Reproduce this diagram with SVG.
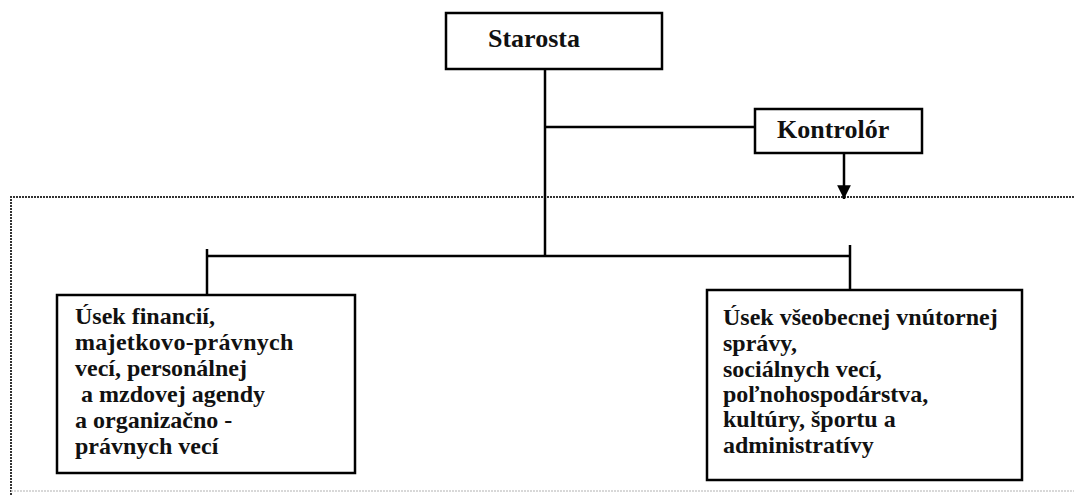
<svg xmlns="http://www.w3.org/2000/svg" width="1074" height="495" viewBox="0 0 1074 495">
<style>
.box{fill:#fff;stroke:#000;stroke-width:2.5}
.ln{fill:none;stroke:#000;stroke-width:2.5}
.frame{fill:none;stroke:#333;stroke-width:2;stroke-dasharray:2 1}
.t{font-family:"Liberation Serif","Times New Roman",serif;font-weight:bold;fill:#111}
.h{font-size:26px}
.b{font-size:24px}
</style>
<defs>
<marker id="arr" viewBox="0 0 10 10" refX="10" refY="5" markerWidth="5.5" markerHeight="5.5" orient="auto" markerUnits="strokeWidth">
<path d="M0,0 L10,5 L0,10 z" fill="#000"/>
</marker>
</defs>
<rect width="1074" height="495" fill="#fff"/>
<g id="frame">
<path class="frame" d="M11,495 L11,197 L1074,197"/>
<path d="M11,491 L1074,491" fill="none" stroke="#ccc" stroke-width="1.5" stroke-dasharray="2 1"/>
</g>
<g id="connectors">
<path class="ln" d="M545,69 L545,256"/>
<path class="ln" d="M545,127 L755,127"/>
<path class="ln" d="M844,153 L844,199" marker-end="url(#arr)"/>
<path class="ln" d="M207,256 L850,256"/>
<path class="ln" d="M207,249 L207,295"/>
<path class="ln" d="M850,245 L850,290"/>
</g>
<g id="starosta">
<rect class="box" x="446" y="13" width="216" height="56"/>
<text class="t h" x="488" y="47">Starosta</text>
</g>
<g id="kontrolor">
<rect class="box" x="755" y="109" width="167" height="44"/>
<text class="t h" x="777" y="138">Kontrolór</text>
</g>
<g id="usek-financii">
<rect class="box" x="57" y="295" width="298" height="178"/>
<text class="t b" x="75" y="324">Úsek financií,</text>
<text class="t b" x="75" y="350" letter-spacing="0.3">majetkovo-právnych</text>
<text class="t b" x="75" y="376">vecí, personálnej</text>
<text class="t b" x="75" y="402" xml:space="preserve"> a mzdovej agendy</text>
<text class="t b" x="75" y="428">a organizačno -</text>
<text class="t b" x="75" y="454">právnych vecí</text>
</g>
<g id="usek-vseobecnej">
<rect class="box" x="707" y="290" width="315" height="190"/>
<text class="t b" x="723" y="325">Úsek všeobecnej vnútornej</text>
<text class="t b" x="723" y="351">správy,</text>
<text class="t b" x="723" y="377">sociálnych vecí,</text>
<text class="t b" x="723" y="402">poľnohospodárstva,</text>
<text class="t b" x="723" y="427">kultúry, športu a</text>
<text class="t b" x="723" y="453">administratívy</text>
</g>
</svg>
